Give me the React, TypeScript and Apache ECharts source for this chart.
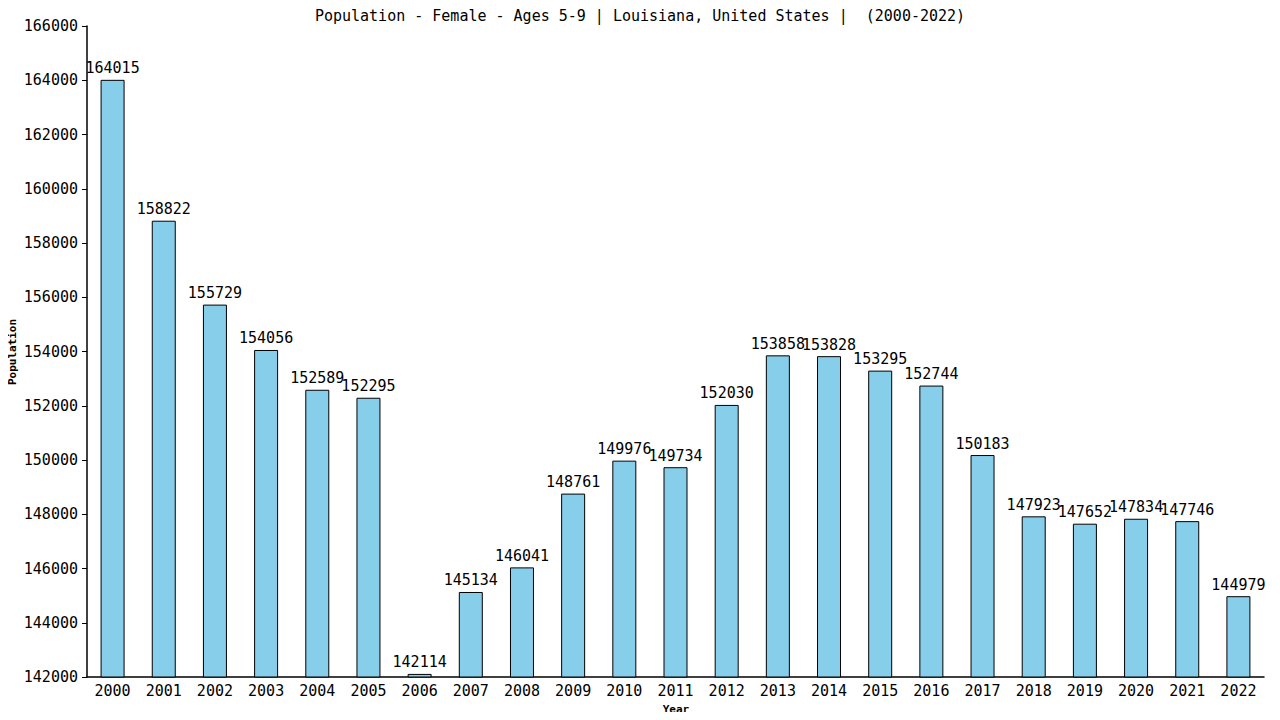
import { useEffect, useRef } from "react";
import * as echarts from "echarts";

const years = [
  "2000", "2001", "2002", "2003", "2004", "2005", "2006", "2007", "2008", "2009", "2010", "2011",
  "2012", "2013", "2014", "2015", "2016", "2017", "2018", "2019", "2020", "2021", "2022",
];
const population = [
  164015, 158822, 155729, 154056, 152589, 152295, 142114, 145134, 146041, 148761, 149976, 149734,
  152030, 153858, 153828, 153295, 152744, 150183, 147923, 147652, 147834, 147746, 144979,
];
const title = "Population - Female - Ages 5-9 | Louisiana, United States |  (2000-2022)";

const FONT = "DejaVu Sans Mono";

export default function App() {
  const ref = useRef<HTMLDivElement>(null);

  useEffect(() => {
    if (!ref.current) return;
    const chart = echarts.init(ref.current, undefined, { renderer: "svg" });
    chart.setOption({
      animation: false,
      backgroundColor: "#fff",
      title: {
        text: title,
        left: "center",
        top: 3,
        textStyle: { fontFamily: FONT, fontSize: 15, fontWeight: "normal", color: "#000" },
      },
      grid: { left: 87, right: 16, top: 26, bottom: 43, outerBoundsMode: "none", containLabel: false },
      // axis names drawn as plain text
      graphic: [
        {
          type: "text",
          x: 12,
          y: 352,
          rotation: Math.PI / 2,
          style: {
            text: "Population",
            font: `bold 11px "${FONT}"`,
            fill: "#000",
            align: "center",
            verticalAlign: "middle",
          },
        },
        {
          type: "text",
          x: 676,
          y: 709,
          style: {
            text: "Year",
            font: `bold 11px "${FONT}"`,
            fill: "#000",
            align: "center",
            verticalAlign: "middle",
          },
        },
      ],
      xAxis: {
        type: "category",
        data: years,
        axisLine: { lineStyle: { color: "#000", width: 1.5 } },
        axisTick: { show: false },
        axisLabel: { fontFamily: FONT, fontSize: 15, color: "#000", margin: 6 },
      },
      yAxis: {
        type: "value",
        min: 142000,
        max: 166000,
        interval: 2000,
        axisLine: { show: true, lineStyle: { color: "#000", width: 1.5 } },
        axisTick: { show: true, length: 5, lineStyle: { color: "#000" } },
        axisLabel: {
          fontFamily: FONT,
          fontSize: 15,
          color: "#000",
          margin: 9,
          formatter: (v: number) => String(v),
        },
        splitLine: { show: false },
      },
      series: [
        {
          type: "bar",
          data: population,
          barWidth: 24,
          itemStyle: { color: "#87CEEB", borderColor: "#000", borderWidth: 1 },
          label: {
            show: true,
            position: "top",
            distance: 4,
            fontFamily: FONT,
            fontSize: 15,
            color: "#000",
          },
        },
      ],
    });
    return () => chart.dispose();
  }, []);

  return <div ref={ref} style={{ width: 1280, height: 720, margin: -8 }} />;
}
